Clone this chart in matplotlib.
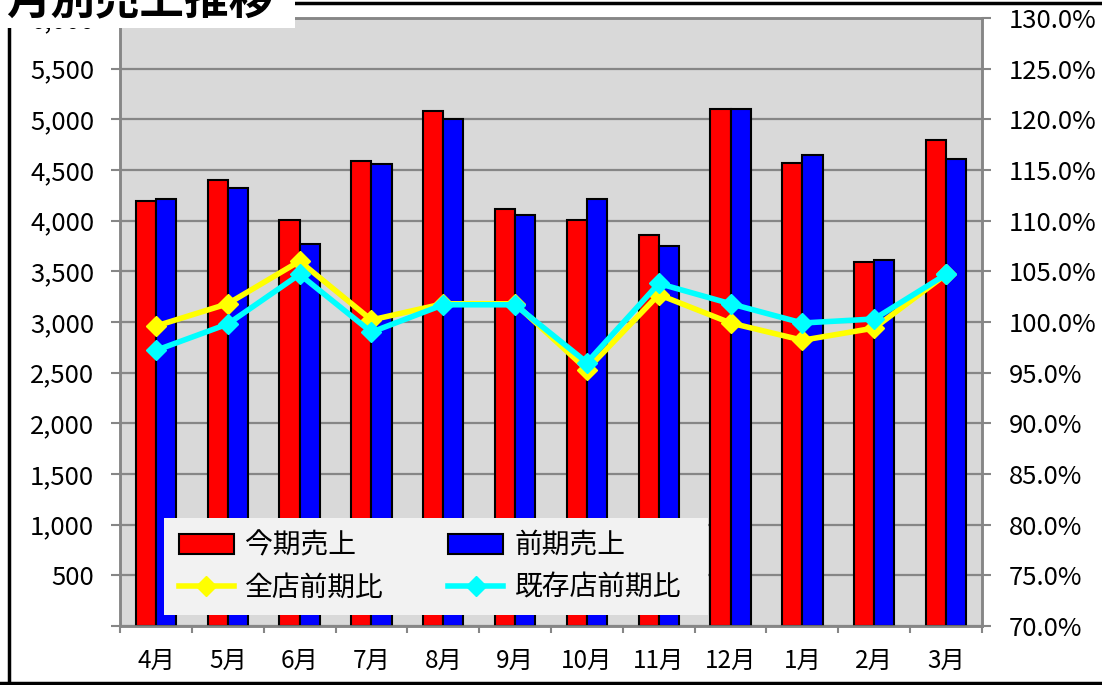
import numpy as np
import matplotlib
matplotlib.use("Agg")
import matplotlib.pyplot as plt
from matplotlib.lines import Line2D
from matplotlib.patches import Rectangle, Patch
from matplotlib.ticker import FuncFormatter

plt.rcParams['font.family'] = ['Noto Sans CJK JP', 'DejaVu Sans']

# data
months = ["4月", "5月", "6月", "7月", "8月", "9月", "10月", "11月", "12月", "1月", "2月", "3月"]
sales_this = [4190, 4400, 4010, 4590, 5080, 4120, 4010, 3860, 5100, 4570, 3590, 4800]
sales_last = [4210, 4320, 3770, 4560, 5000, 4060, 4210, 3750, 5100, 4650, 3610, 4610]
ratio_all = [99.6, 101.8, 106.0, 100.2, 101.8, 101.8, 95.3, 102.7, 99.9, 98.2, 99.4, 104.7]
ratio_exist = [97.2, 99.8, 104.7, 99.0, 101.7, 101.7, 96.0, 103.8, 101.8, 99.9, 100.3, 104.7]

title = "月別売上推移"
W, H = 1102, 685
GRAY = '#868686'

fig = plt.figure(figsize=(W / 100, H / 100), dpi=100)
ax = fig.add_axes([120 / W, 1 - 626 / H, 862 / W, 608 / H])
ax.set_facecolor('#D9D9D9')

x = np.arange(len(months))
bw = 0.28
ax.bar(x - bw / 2, sales_this, bw, color='#FF0000', edgecolor='black', linewidth=1.5, zorder=3)
ax.bar(x + bw / 2, sales_last, bw, color='#0000FF', edgecolor='black', linewidth=1.5, zorder=3)

ax.set_xlim(-0.5, len(months) - 0.5)
ax.set_ylim(0, 6000)
ax.set_yticks(np.arange(0, 6001, 500))
ax.yaxis.set_major_formatter(FuncFormatter(lambda v, p: "" if v == 0 else f"{int(v):,}"))
ax.grid(axis='y', color=GRAY, linewidth=1.6, zorder=1)
ax.set_axisbelow(True)

# ticks at category boundaries, labels at centers
ax.set_xticks(np.arange(-0.5, len(months), 1))
ax.set_xticklabels([])
ax.set_xticks(x, minor=True)
ax.set_xticklabels(months, minor=True, fontsize=17.5)
ax.tick_params(axis='x', which='major', length=5, width=1.5, color=GRAY, direction='out')
ax.tick_params(axis='x', which='minor', length=0, pad=16)
ax.tick_params(axis='y', length=6.5, width=1.5, color=GRAY, labelsize=18.5, pad=12)
for s in ax.spines.values():
    s.set_color(GRAY)
    s.set_linewidth(1.8)

ax2 = ax.twinx()
ax2.set_ylim(70, 130)
ax2.set_yticks(np.arange(70, 130.1, 5))
ax2.yaxis.set_major_formatter(FuncFormatter(lambda v, p: f"{v:.1f}%"))
ax2.tick_params(axis='y', length=6.5, width=1.5, color=GRAY, labelsize=18.5, pad=13)
for s in ax2.spines.values():
    s.set_color(GRAY)
    s.set_linewidth(1.8)

l1, = ax2.plot(x, ratio_all, color='#FFFF00', linewidth=4, marker='D', markersize=10,
               markeredgecolor='#FFFF00', zorder=4)
l2, = ax2.plot(x, ratio_exist, color='#00FFFF', linewidth=4, marker='D', markersize=10,
               markeredgecolor='#00FFFF', zorder=5)

# legend background box, then the legend on top of it
ax2.add_patch(Rectangle((164, H - 615), 544, 97, facecolor='#F2F2F2', edgecolor='none',
                        transform=None, zorder=9))
h1 = Patch(facecolor='#FF0000', edgecolor='black', linewidth=1.5)
h2 = Patch(facecolor='#0000FF', edgecolor='black', linewidth=1.5)
leg = ax2.legend([h1, l1, h2, l2], ["今期売上", "全店前期比", "前期売上", "既存店前期比"],
                 ncol=2, loc='upper left', bbox_to_anchor=(166 / W, 1 - 518 / H),
                 bbox_transform=fig.transFigure, fontsize=20, frameon=False,
                 handlelength=2.0, handleheight=0.75, columnspacing=2.3,
                 labelspacing=0.45, borderpad=0.45, handletextpad=0.4, borderaxespad=0)
leg.set_zorder(10)

# outer frame
fig.add_artist(Line2D([9 / W, 9 / W], [0, 1], color='black', linewidth=2.5, transform=fig.transFigure))
fig.add_artist(Line2D([0, 1], [1 - 3 / H, 1 - 3 / H], color='black', linewidth=2.5, transform=fig.transFigure))
fig.add_artist(Line2D([0, 1], [1 - 683 / H, 1 - 683 / H], color='black', linewidth=2.5, transform=fig.transFigure))

# title box (cut at the top edge)
fig.add_artist(Rectangle((0, 1 - 28 / H), 295 / W, 28 / H, facecolor='white', edgecolor='none',
                         transform=fig.transFigure, zorder=20))
fig.text(6 / W, 1 - 1 / H, title, fontsize=32, fontweight='bold', ha='left', va='center',
         zorder=21)

fig.savefig("out.png", dpi=100)
